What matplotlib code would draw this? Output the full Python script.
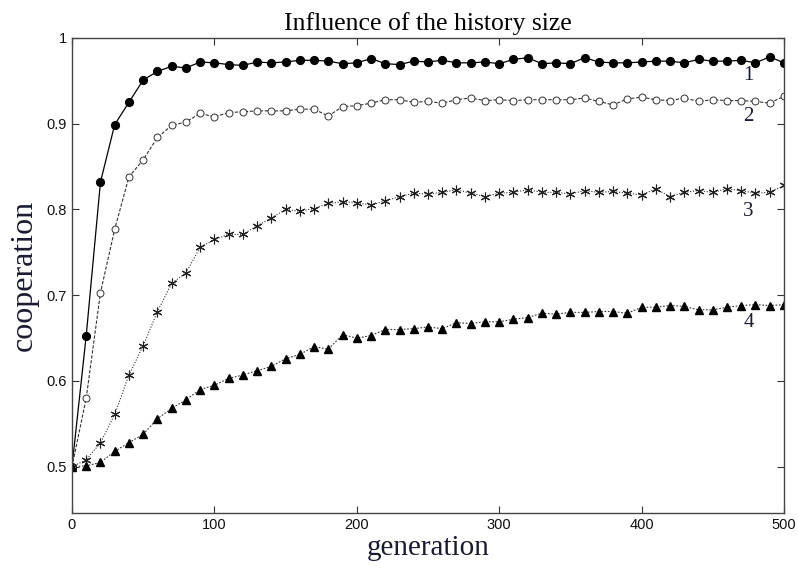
import matplotlib
matplotlib.use("Agg")
import matplotlib.pyplot as plt
import numpy as np

generations = list(range(0, 501, 10))

coop_1 = [0.500, 0.653, 0.832, 0.899, 0.925, 0.951, 0.961, 0.967, 0.965, 0.972,
          0.971, 0.969, 0.968, 0.972, 0.971, 0.972, 0.974, 0.974, 0.973, 0.970,
          0.971, 0.976, 0.970, 0.969, 0.973, 0.972, 0.974, 0.971, 0.971, 0.972,
          0.970, 0.975, 0.977, 0.970, 0.971, 0.970, 0.977, 0.972, 0.971, 0.971,
          0.972, 0.973, 0.973, 0.971, 0.975, 0.973, 0.973, 0.974, 0.971, 0.978,
          0.971]

coop_2 = [0.500, 0.580, 0.703, 0.777, 0.838, 0.858, 0.884, 0.898, 0.902, 0.912,
          0.908, 0.913, 0.914, 0.915, 0.915, 0.915, 0.917, 0.917, 0.909, 0.920,
          0.921, 0.924, 0.928, 0.928, 0.925, 0.926, 0.924, 0.928, 0.930, 0.927,
          0.928, 0.927, 0.928, 0.928, 0.928, 0.928, 0.930, 0.926, 0.922, 0.929,
          0.931, 0.928, 0.927, 0.930, 0.926, 0.928, 0.927, 0.927, 0.926, 0.924,
          0.932]

coop_3 = [0.500, 0.508, 0.528, 0.561, 0.607, 0.641, 0.681, 0.714, 0.726, 0.756,
          0.765, 0.771, 0.771, 0.781, 0.790, 0.800, 0.798, 0.801, 0.807, 0.809,
          0.808, 0.805, 0.810, 0.815, 0.819, 0.818, 0.820, 0.823, 0.819, 0.815,
          0.819, 0.820, 0.823, 0.820, 0.820, 0.818, 0.822, 0.820, 0.821, 0.819,
          0.817, 0.824, 0.815, 0.820, 0.822, 0.820, 0.824, 0.822, 0.819, 0.820,
          0.828]

coop_4 = [0.500, 0.501, 0.505, 0.518, 0.528, 0.538, 0.556, 0.568, 0.578, 0.590,
          0.595, 0.603, 0.607, 0.612, 0.617, 0.626, 0.631, 0.640, 0.637, 0.654,
          0.650, 0.653, 0.660, 0.660, 0.661, 0.663, 0.661, 0.668, 0.667, 0.669,
          0.669, 0.672, 0.674, 0.679, 0.678, 0.680, 0.680, 0.681, 0.681, 0.679,
          0.686, 0.686, 0.688, 0.687, 0.683, 0.683, 0.686, 0.688, 0.689, 0.688,
          0.689]

curve_labels = ["1", "2", "3", "4"]
label_pos = [(475, 0.956), (475, 0.908), (475, 0.798), (475, 0.668)]

y_ticks = [0.5, 0.6, 0.7, 0.8, 0.9, 1.0]
y_tick_labels = ["0.5", "0.6", "0.7", "0.8", "0.9", "1"]
x_ticks = [0, 100, 200, 300, 400, 500]
x_tick_labels = ["0", "100", "200", "300", "400", "500"]

fig = plt.figure(figsize=(7.99, 5.72), dpi=100)
ax = fig.add_axes([0.0901, 0.1031, 0.8911, 0.8305])

ax.plot(generations, coop_1, color="black", lw=0.9, ls="-",
        marker="o", ms=5.6, mfc="black", mec="black")
ax.plot(generations, coop_2, color="#333333", lw=0.8, ls=(0, (3, 1.5)),
        marker="o", ms=5.0, mfc="white", mec="#333333", mew=0.7)
ax.plot(generations, coop_3, color="#333333", lw=0.8, ls=(0, (1, 1.5)),
        marker=(6, 2, 0), ms=7, mec="#222222", mew=0.8)
ax.plot(generations, coop_4, color="#333333", lw=0.8, ls=(0, (1.5, 1.5)),
        marker="^", ms=5.3, mfc="black", mec="black")

for lab, (lx, ly) in zip(curve_labels, label_pos):
    ax.text(lx, ly, lab, fontsize=15, family="Liberation Serif",
            color="#1a1a30", ha="center", va="center")

ax.set_xlim(0, 500)
ax.set_ylim(0.446, 1.0)
ax.set_xticks(x_ticks)
ax.set_xticklabels(x_tick_labels)
ax.set_yticks(y_ticks)
ax.set_yticklabels(y_tick_labels)
ax.tick_params(direction="in", length=5, width=0.8, top=True, right=True,
               labelsize=10.5, colors="#333333", labelcolor="#111111")
for t in ax.get_xticklabels() + ax.get_yticklabels():
    t.set_family("Liberation Sans")
for s in ax.spines.values():
    s.set_color("#444444")
    s.set_linewidth(1.0)

ax.set_title("Influence of the history size", family="Liberation Serif",
             fontsize=18.5, pad=6)
ax.set_xlabel("generation", family="Liberation Serif", fontsize=21,
              color="#1a1a30", labelpad=2)
ax.set_ylabel("cooperation", family="Liberation Serif", fontsize=23,
              color="#1a1a30", labelpad=6)

fig.savefig("out.png", dpi=100)
